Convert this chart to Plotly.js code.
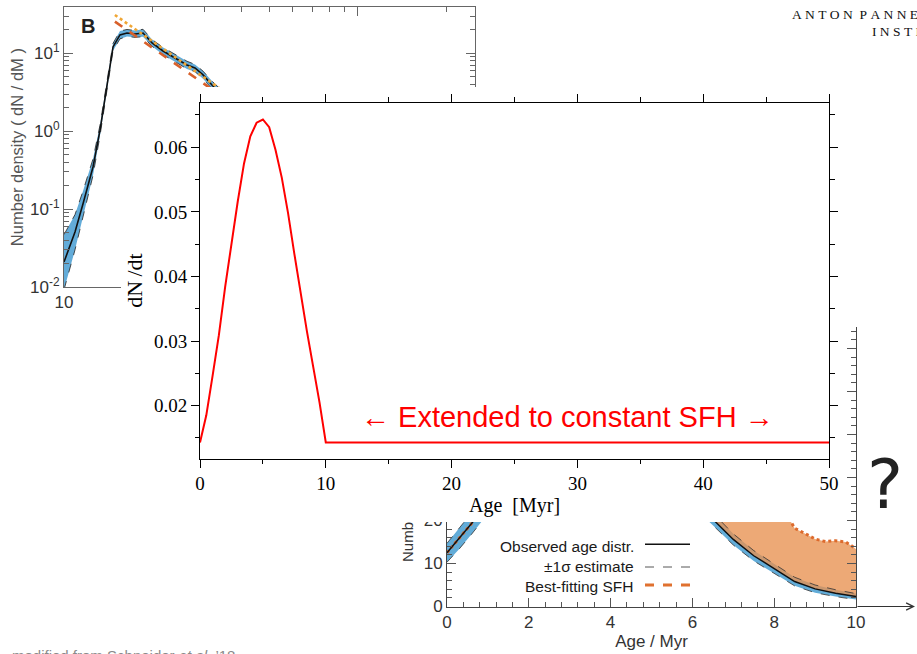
<!DOCTYPE html>
<html><head><meta charset="utf-8">
<script src="https://cdn.plot.ly/plotly-3.0.1.min.js"></script>
<style>html,body{margin:0;padding:0;background:#fff;}#chart{width:917px;height:654px;}</style>
</head><body><div id="chart"></div>
<script>
// ---- Main chart: star formation history dN/dt vs age ----
const ageMyr = [0,0.5,1,1.5,2,2.5,3,3.5,4,4.5,5,5.5,6,6.5,7,7.5,8,8.5,9,9.5,10,50];
const dNdt   = [0.0143,0.0185,0.0246,0.0309,0.0384,0.0452,0.0516,0.0575,0.0617,0.0638,0.0643,0.0631,0.0596,0.0553,0.0498,0.0435,0.0372,0.0315,0.0260,0.0205,0.0143,0.0143];
const noteText = '\u2190 Extended to constant SFH \u2192';

// ---- Background panel B: mass function ----
const massB   = [10.0,10.9,11.6,12.55,13.26,14.01,14.68,15.5,16.38,17.44,18.57,19.93,21.72,23.85,26.2,27.9,29.71,31.87,34.5,40,50];
const densB   = [0.0209,0.0508,0.116,0.347,1.03,4.16,12.05,17.2,18.2,17.7,18.2,13.6,10.7,8.71,7.08,6.48,5.27,3.92,2.9,1.6,0.8];
const densBHi = [0.047,0.085,0.17,0.44,1.2,4.7,13.4,19.3,20.2,19.6,20.3,15.0,11.9,9.7,7.9,7.2,5.9,4.4,3.3,1.85,0.95];
const densBLo = [0.0092,0.030,0.079,0.27,0.88,3.7,10.8,15.3,16.4,16.0,16.3,12.3,9.6,7.8,6.3,5.8,4.7,3.5,2.55,1.38,0.67];
const fitMass = [14.9,34];
const fitGold = [31.0,3.5];
const fitRed  = [25.5,2.9];
const xTickValsB = [10,100];
const xTickTextB = ['10',''];
const yTickValsB = [0.01,0.1,1,10];
const yTickTextB = ['10<sup>-2</sup>','10<sup>-1</sup>','10<sup>0</sup>','10<sup>1</sup>'];

// ---- Background panel: age distribution ----
const ageObs = [0,0.3,0.6,1,2,3,4,5,6,6.5,7,7.5,8,8.5,9,9.5,10];
const obsN   = [12.5,15.8,19.3,24,36,45,46,38,25,20.3,15.6,11.8,8.8,5.8,4.1,3.1,2.3];
const obsHi  = [14.7,18.2,21.8,26.5,38.5,47.5,48.5,40.3,26.6,21.7,16.9,13.0,9.9,6.8,5.0,3.9,3.0];
const obsLo  = [10.3,13.4,16.8,21.5,33.5,42.5,43.5,35.7,23.4,18.9,14.3,10.6,7.7,4.8,3.2,2.3,1.6];
const ageSfh = [0,0.3,0.6,1,2,3,4,5,6,7,8,8.3,8.5,8.75,9,9.25,9.5,9.75,10];
const sfhN   = [12.5,15.8,19.3,24,37,48,53,52,47,38,27,21.5,18.2,17.0,15.7,15.1,15.3,15.0,13.4];
const yTickVals2 = [0,10,20,30,40,50,60];
const yTickText2 = ['0','10','20','','','',''];
const legendLabels = ['Observed age distr.','\u00b11\u03c3 estimate','Best-fitting SFH'];

function logMinor(lo, hi){ const v=[]; for(let e=lo;e<hi;e++){for(let k=2;k<10;k++){v.push(k*Math.pow(10,e));}} return v; }

const W = 917, H = 654;
const px = x => x / W;
const py = y => (H - y) / H;

const traces = [
  // panel B
  {x: massB, y: densBLo, xaxis:'x', yaxis:'y', mode:'lines', line:{color:'rgba(0,0,0,0)', width:0}, hoverinfo:'skip'},
  {x: massB, y: densBHi, xaxis:'x', yaxis:'y', mode:'lines', fill:'tonexty', fillcolor:'#63acd9', line:{color:'rgba(0,0,0,0)', width:0}, hoverinfo:'skip'},
  {x: massB, y: densBLo, xaxis:'x', yaxis:'y', mode:'lines', line:{color:'#222', width:0.8, dash:'dash'}},
  {x: massB, y: densBHi, xaxis:'x', yaxis:'y', mode:'lines', line:{color:'#222', width:0.8, dash:'dash'}},
  {x: massB, y: densB, xaxis:'x', yaxis:'y', mode:'lines', line:{color:'#111', width:1.6}},
  {x: fitMass, y: fitGold, xaxis:'x', yaxis:'y', mode:'lines', line:{color:'#f0a634', width:2.6, dash:'dot'}},
  {x: fitMass, y: fitRed, xaxis:'x', yaxis:'y', mode:'lines', line:{color:'#d8602a', width:2.6, dash:'dash'}},
  // panel age distribution
  {x: ageObs, y: obsLo, xaxis:'x2', yaxis:'y2', mode:'lines', line:{color:'rgba(0,0,0,0)', width:0}, hoverinfo:'skip'},
  {x: ageObs, y: obsHi, xaxis:'x2', yaxis:'y2', mode:'lines', fill:'tonexty', fillcolor:'#62acd8', line:{color:'rgba(0,0,0,0)', width:0}, hoverinfo:'skip'},
  {x: ageObs, y: obsN, xaxis:'x2', yaxis:'y2', mode:'lines', line:{color:'rgba(0,0,0,0)', width:0}, hoverinfo:'skip'},
  {x: ageSfh, y: sfhN, xaxis:'x2', yaxis:'y2', mode:'lines', fill:'tonexty', fillcolor:'rgba(232,145,80,0.78)', line:{color:'#dd6a2c', width:3, dash:'dot'}},
  {x: ageObs, y: obsLo, xaxis:'x2', yaxis:'y2', mode:'lines', line:{color:'#333', width:0.8, dash:'dash'}},
  {x: ageObs, y: obsHi, xaxis:'x2', yaxis:'y2', mode:'lines', line:{color:'#333', width:0.8, dash:'dash'}},
  {x: ageObs, y: obsN, xaxis:'x2', yaxis:'y2', mode:'lines', line:{color:'#111', width:1.5}},
  // cover (white card behind the main chart)
  {x: [], y: [], xaxis:'x3', yaxis:'y3', mode:'lines'},
  // main chart
  {x: ageMyr, y: dNdt, xaxis:'x4', yaxis:'y4', mode:'lines', line:{color:'#ff0000', width:2}}
];

const sansGray = {family:'Liberation Sans, Arial, sans-serif', size:17, color:'#333'};
const serif = {family:'Liberation Serif, Times New Roman, serif', size:19, color:'#000'};
const sans = 'Liberation Sans, Arial, sans-serif';

function note(x, y, text, font, extra){
  return Object.assign({xref:'paper', yref:'paper', x:px(x), y:py(y), text:text, showarrow:false,
    xanchor:'center', yanchor:'middle', font:font}, extra||{});
}

const layout = {
  width: W, height: H, margin:{l:0,r:0,t:0,b:0},
  paper_bgcolor:'#fff', plot_bgcolor:'#fff', showlegend:false,
  xaxis: {domain:[px(64), px(475)], anchor:'y', type:'log', range:[1, 2.398], showgrid:false, zeroline:false,
    showline:true, linecolor:'#666', linewidth:1, mirror:'ticks', ticks:'inside', ticklen:9, tickcolor:'#666',
    tickvals:xTickValsB, ticktext:xTickTextB, tickfont:sansGray,
    minor:{tickvals:logMinor(1,3), ticks:'inside', ticklen:5, tickcolor:'#666', showgrid:false}},
  yaxis: {domain:[py(287), py(7.3)], anchor:'x', type:'log', range:[-2, 1.59], showgrid:false, zeroline:false,
    showline:true, linecolor:'#666', linewidth:1, mirror:'ticks', ticks:'inside', ticklen:9, tickcolor:'#666',
    tickvals:yTickValsB, ticktext:yTickTextB, tickfont:sansGray,
    minor:{tickvals:logMinor(-2,2), ticks:'inside', ticklen:5, tickcolor:'#666', showgrid:false},
    title:{text:'Number density ( dN / dM )', font:{family:sans, size:16.5, color:'#555'}, standoff:2}},
  xaxis2: {domain:[px(447), px(856)], anchor:'y2', range:[0,10], showgrid:false, zeroline:false,
    showline:true, linecolor:'#444', linewidth:1, ticks:'inside', ticklen:9, tickcolor:'#555', dtick:2, tick0:0,
    tickfont:{family:sans, size:17, color:'#333'},
    minor:{dtick:0.4, tick0:0, ticks:'inside', ticklen:5, tickcolor:'#555', showgrid:false},
    title:{text:'Age / Myr', font:{family:sans, size:17, color:'#333'}, standoff:4}},
  yaxis2: {domain:[py(606.5), py(327)], anchor:'x2', range:[0,65], showgrid:false, zeroline:false,
    showline:true, linecolor:'#444', linewidth:1, mirror:'ticks', ticks:'inside', ticklen:9, tickcolor:'#555',
    tickvals:yTickVals2, ticktext:yTickText2,
    tickfont:{family:sans, size:17, color:'#333'},
    minor:{dtick:2, tick0:0, ticks:'inside', ticklen:5, tickcolor:'#555', showgrid:false}},
  xaxis3: {domain:[px(121), px(845)], anchor:'y3', visible:false, range:[0,1]},
  yaxis3: {domain:[py(522), py(87)], anchor:'x3', visible:false, range:[0,1]},
  xaxis4: {domain:[px(200), px(829)], anchor:'y4', range:[0,50], showgrid:false, zeroline:false,
    showline:true, linecolor:'#000', linewidth:1, mirror:'ticks', ticks:'outside', ticklen:8, tickwidth:1, tickcolor:'#000',
    dtick:10, tick0:0, tickfont:serif,
    minor:{dtick:5, tick0:0, ticks:'outside', ticklen:4.5, tickwidth:1, tickcolor:'#000', showgrid:false},
    title:{text:'Age\u00a0\u00a0[Myr]', font:{family:'Liberation Serif, Times New Roman, serif', size:20, color:'#000'}, standoff:4}},
  yaxis4: {domain:[py(458.5), py(102.7)], anchor:'x4', range:[0.01181,0.0669], showgrid:false, zeroline:false,
    showline:true, linecolor:'#000', linewidth:1, mirror:'ticks', ticks:'outside', ticklen:8, tickwidth:1, tickcolor:'#000',
    dtick:0.01, tick0:0, tickformat:'.2f', tickfont:serif,
    minor:{dtick:0.005, tick0:0, ticks:'outside', ticklen:4.5, tickwidth:1, tickcolor:'#000', showgrid:false},
    title:{text:'dN\u2009/dt', font:{family:'Liberation Serif, Times New Roman, serif', size:22, color:'#000'}, standoff:5}},
  shapes: [
    {type:'line', xref:'paper', yref:'paper', x0:px(645), x1:px(690), y0:py(544.3), y1:py(544.3), line:{color:'#111', width:1.6}},
    {type:'line', xref:'paper', yref:'paper', x0:px(645), x1:px(690), y0:py(567), y1:py(567), line:{color:'#444', width:0.9, dash:'dash'}},
    {type:'line', xref:'paper', yref:'paper', x0:px(645), x1:px(690), y0:py(585), y1:py(585), line:{color:'#e0712f', width:3, dash:'dash'}}
  ],
  annotations: [
    {xref:'x4', yref:'y4', x:29.25, y:0.01825, text:noteText, showarrow:false, xanchor:'center', yanchor:'middle',
     font:{family:sans, size:29, color:'#ff0000'}},
    note(88, 26, '<b>B</b>', {family:sans, size:20, color:'#222'}),
    note(636, 546, legendLabels[0], {family:sans, size:15.5, color:'#1a1a1a'}, {xanchor:'right'}),
    note(636, 566.7, legendLabels[1], {family:sans, size:15.5, color:'#1a1a1a'}, {xanchor:'right'}),
    note(636, 586.7, legendLabels[2], {family:sans, size:15.5, color:'#1a1a1a'}, {xanchor:'right'}),
    note(407, 542, 'Numb', {family:sans, size:15, color:'#333'}, {textangle:-90}),
    note(885, 484, '?', {family:'DejaVu Sans, sans-serif', size:68, color:'#222'}),
    {xref:'paper', yref:'paper', x:px(915), y:py(606.5), ax:-59, ay:0, text:'', showarrow:true,
     arrowhead:5, arrowsize:1.3, arrowwidth:1.1, arrowcolor:'#333'},
    note(790, 14, 'A\u2005N\u2005T\u2005O\u2005N\u2005 P\u2005A\u2005N\u2005N\u2005E\u2005K\u2005O\u2005E\u2005K', {family:'Liberation Serif, serif', size:13.5, color:'#111'}, {xanchor:'left'}),
    note(870, 31.5, 'I\u2005N\u2005S\u2005T\u2005I\u2005T\u2005U\u2005T\u2005E', {family:'Liberation Serif, serif', size:13.5, color:'#111'}, {xanchor:'left'}),
    note(10, 645, 'modified from Schneider <i>et al.</i> \u201918', {family:sans, size:15, color:'#8a8a8a'}, {xanchor:'left', yanchor:'top'})
  ]
};

Plotly.newPlot('chart', traces, layout, {displayModeBar:false, staticPlot:true});
</script></body></html>
